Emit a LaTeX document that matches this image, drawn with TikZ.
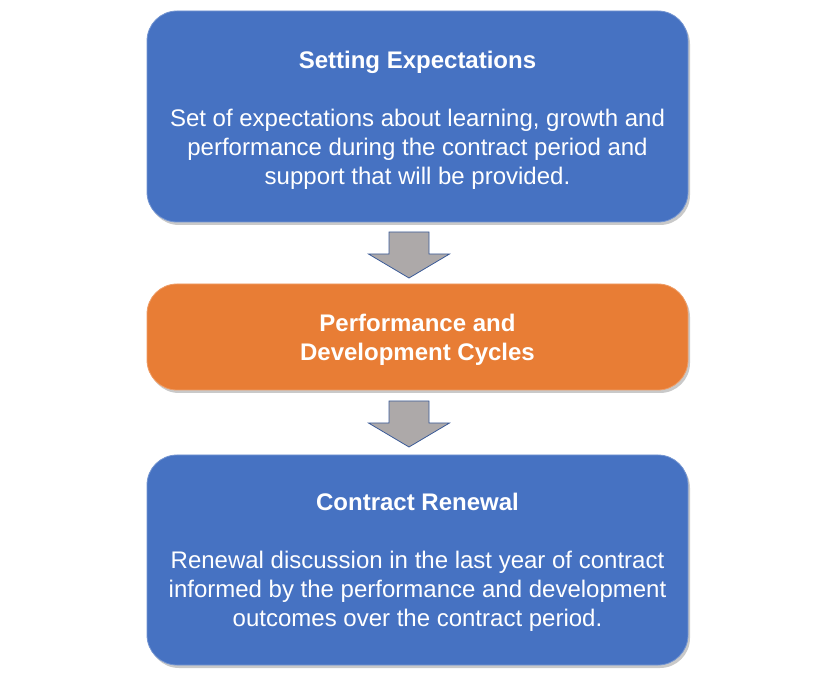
\documentclass[tikz,border=0pt]{standalone}
\usepackage{fontspec}
\setmainfont{Liberation Sans}
\usetikzlibrary{shadows}
\definecolor{boxblue}{HTML}{4672C2}
\definecolor{boxorange}{HTML}{E87D35}
\definecolor{arrowgray}{HTML}{ADA9A9}
\definecolor{arrowedge}{HTML}{3B5B98}
\tikzset{
  stagebox/.style={rounded corners=30pt, minimum width=541pt, text=white, align=center,
    font=\fontsize{24}{29}\selectfont, inner sep=0pt,
    drop shadow={shadow xshift=2pt, shadow yshift=-3pt, opacity=0.3, fill=black!70}},
  bluebox/.style={stagebox, fill=boxblue, draw=boxblue!75!white, line width=0.8pt},
  orangebox/.style={stagebox, fill=boxorange, draw=boxorange!75!white, line width=0.8pt},
  arrowshape/.style={fill=arrowgray, draw=arrowedge, line width=0.8pt, line join=miter},
  downarrow/.pic={\draw[arrowshape] (-20,0) -- (20,0) -- (20,22) -- (40.5,22) -- (0,46) -- (-40.5,22) -- (-20,22) -- cycle;}
}
\newcommand{\topstrut}[1]{\rule{0pt}{#1}}
\begin{document}
\begin{tikzpicture}[x=1pt,y=-1pt]
\useasboundingbox (0,0) rectangle (820,676);
\node[bluebox, minimum height=211pt] (expect) at (417.5,116.5)
  {\topstrut{24pt}\textbf{Setting Expectations}\\[29pt]
   Set of expectations about learning, growth and\\
   performance during the contract period and\\
   support that will be provided.};
\node[orangebox, minimum height=106pt] (cycles) at (417.5,337)
  {\topstrut{22pt}\textbf{Performance and}\\ \textbf{Development Cycles}};
\node[bluebox, minimum height=210pt] (renew) at (417.5,560)
  {\topstrut{22pt}\textbf{Contract Renewal}\\[29pt]
   Renewal discussion in the last year of contract\\
   informed by the performance and development\\
   outcomes over the contract period.};
\coordinate (a1) at (409,232);
\coordinate (a2) at (409,401);
\pic at (a1) {downarrow};
\pic at (a2) {downarrow};
\end{tikzpicture}
\end{document}
